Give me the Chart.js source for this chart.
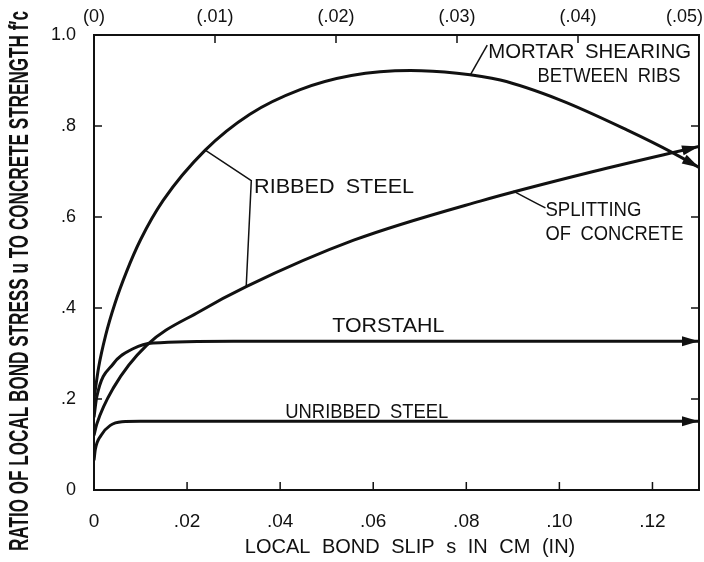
<!DOCTYPE html>
<html>
<head>
<meta charset="utf-8">
<script src="https://cdn.jsdelivr.net/npm/chart.js@4/dist/chart.umd.min.js"></script>
<style>
  html, body { margin: 0; padding: 0; background: #fff; }
  canvas { display: block; }
</style>
</head>
<body>
<canvas id="chart" width="704" height="562"></canvas>
<script>
// ── Data (slip in cm, stress ratio u / f'c) ─────────────────────────
const ribbedX = [0, 0.001, 0.0025, 0.0045, 0.007, 0.010, 0.0149, 0.0239, 0.0335, 0.0443, 0.0553, 0.0680, 0.0780, 0.0873, 0.1002, 0.1146, 0.1246, 0.130];
const ribbedY = [0.20, 0.27, 0.34, 0.41, 0.48, 0.55, 0.637, 0.747, 0.826, 0.880, 0.911, 0.922, 0.916, 0.901, 0.857, 0.791, 0.740, 0.709];

const splitX = [0, 0.0006, 0.0042, 0.0113, 0.0228, 0.0327, 0.0558, 0.083, 0.1073, 0.130];
const splitY = [0.12, 0.145, 0.225, 0.318, 0.393, 0.447, 0.549, 0.635, 0.700, 0.755];

const torX = [0, 0.0006, 0.0042, 0.0085, 0.0127, 0.030, 0.130];
const torY = [0.16, 0.205, 0.278, 0.311, 0.323, 0.327, 0.327];

const unX = [0, 0.0003, 0.0015, 0.0035, 0.006, 0.010, 0.130];
const unY = [0.065, 0.09, 0.12, 0.142, 0.150, 0.151, 0.151];

const xTicks  = [0, 0.02, 0.04, 0.06, 0.08, 0.10, 0.12];   // cm
const x2Ticks = [0, 0.01, 0.02, 0.03, 0.04, 0.05];         // in
const yTicks  = [0, 0.2, 0.4, 0.6, 0.8, 1.0];

const INK  = '#111';
const FONT = "'Liberation Sans', Arial, sans-serif";

// ── Annotations (anchored in data units, w = lettered width) ────────
const notes = [
  { text: 'RIBBED STEEL',    x: 0.0344, y: 0.666, w: 160 },
  { text: 'TORSTAHL',        x: 0.0512, y: 0.360, w: 112 },
  { text: 'UNRIBBED STEEL',  x: 0.0411, y: 0.171, w: 163 },
  { text: 'MORTAR SHEARING', x: 0.0847, y: 0.963, w: 203 },
  { text: 'BETWEEN RIBS',    x: 0.0953, y: 0.910, w: 143 },
  { text: 'SPLITTING',       x: 0.0970, y: 0.615, w: 96 },
  { text: 'OF CONCRETE',     x: 0.0970, y: 0.563, w: 138 },
];

const leaders = [
  [[0.0239, 0.747], [0.0338, 0.680], [0.0327, 0.446]],
  [[0.0809, 0.913], [0.0845, 0.978]],
  [[0.0901, 0.657], [0.0953, 0.629], [0.0970, 0.620]],
];

const pts = (xs, ys) => xs.map((x, i) => ({ x, y: ys[i] }));

const curve = (data) => ({
  data,
  borderColor: INK,
  borderWidth: 3,
  pointRadius: 0,
  fill: false,
  cubicInterpolationMode: 'monotone',
});

// ── Drawing helpers ─────────────────────────────────────────────────
const inkPlugin = {
  id: 'ink',
  afterDatasetsDraw(chart) {
    const { ctx, chartArea: a, scales: { x, x2, y } } = chart;
    ctx.save();
    ctx.strokeStyle = INK;
    ctx.fillStyle = INK;

    // frame
    ctx.lineWidth = 2;
    ctx.strokeRect(a.left, a.top, a.right - a.left, a.bottom - a.top);

    // inward ticks
    ctx.lineWidth = 1.5;
    ctx.beginPath();
    xTicks.forEach(v => {
      const px = x.getPixelForValue(v);
      ctx.moveTo(px, a.bottom); ctx.lineTo(px, a.bottom - 8);
    });
    x2Ticks.forEach(v => {
      const px = x2.getPixelForValue(v);
      ctx.moveTo(px, a.top); ctx.lineTo(px, a.top + 8);
    });
    yTicks.forEach(v => {
      const py = y.getPixelForValue(v);
      ctx.moveTo(a.left, py);  ctx.lineTo(a.left + 8, py);
      ctx.moveTo(a.right, py); ctx.lineTo(a.right - 8, py);
    });
    ctx.stroke();

    // arrowheads at curve ends
    chart.data.datasets.forEach((ds, i) => {
      const el = chart.getDatasetMeta(i).data;
      const p = el[el.length - 1], q = el[el.length - 2];
      const ang = Math.atan2(p.y - q.y, p.x - q.x);
      ctx.save();
      ctx.translate(p.x, p.y);
      ctx.rotate(ang);
      ctx.beginPath();
      ctx.moveTo(0, 0);
      ctx.lineTo(-17, -5);
      ctx.lineTo(-17, 5);
      ctx.closePath();
      ctx.fill();
      ctx.restore();
    });

    // leader lines
    ctx.lineWidth = 1.5;
    leaders.forEach(line => {
      ctx.beginPath();
      line.forEach(([vx, vy], k) => {
        const px = x.getPixelForValue(vx), py = y.getPixelForValue(vy);
        k ? ctx.lineTo(px, py) : ctx.moveTo(px, py);
      });
      ctx.stroke();
    });

    // curve labels, squeezed to the lettered width
    ctx.font = `21px ${FONT}`;
    ctx.textAlign = 'left';
    ctx.textBaseline = 'middle';
    if ('wordSpacing' in ctx) ctx.wordSpacing = '5px';
    notes.forEach(n => {
      const sx = n.w / ctx.measureText(n.text).width;
      ctx.save();
      ctx.translate(x.getPixelForValue(n.x), y.getPixelForValue(n.y));
      ctx.scale(sx, 1);
      ctx.fillText(n.text, 0, 0);
      ctx.restore();
    });

    // top axis labels (inches)
    ctx.font = `18px ${FONT}`;
    ctx.textAlign = 'center';
    ctx.textBaseline = 'alphabetic';
    if ('wordSpacing' in ctx) ctx.wordSpacing = '0px';
    x2Ticks.forEach(v => {
      const label = '(' + (v === 0 ? '0' : v.toFixed(2).replace(/^0/, '')) + ')';
      const w = ctx.measureText(label).width;
      const px = Math.min(x2.getPixelForValue(v), chart.width - w / 2 - 1);
      ctx.fillText(label, px, 22);
    });

    // x title
    ctx.font = `20px ${FONT}`;
    if ('wordSpacing' in ctx) ctx.wordSpacing = '6px';
    ctx.textBaseline = 'middle';
    ctx.fillText('LOCAL BOND SLIP s IN CM (IN)', 410, 547);

    // y title, condensed bold
    ctx.font = `bold 27px ${FONT}`;
    if ('wordSpacing' in ctx) ctx.wordSpacing = '0px';
    const title = "RATIO OF LOCAL BOND STRESS u TO CONCRETE STRENGTH f\u2032c";
    const tw = ctx.measureText(title).width;
    ctx.translate(21, 281);
    ctx.rotate(-Math.PI / 2);
    ctx.scale(540 / tw, 1);
    ctx.fillText(title, 0, 0);

    ctx.restore();
  },
};

new Chart(document.getElementById('chart'), {
  type: 'line',
  data: {
    datasets: [
      curve(pts(ribbedX, ribbedY)),
      curve(pts(splitX, splitY)),
      curve(pts(torX, torY)),
      curve(pts(unX, unY)),
    ],
  },
  options: {
    responsive: false,
    animation: false,
    devicePixelRatio: 1,
    layout: { padding: { left: 0, right: 5, top: 0, bottom: 0 } },
    plugins: { legend: { display: false }, tooltip: { enabled: false } },
    scales: {
      x: {
        type: 'linear',
        position: 'bottom',
        min: 0,
        max: 0.13,
        afterBuildTicks: s => { s.ticks = xTicks.map(v => ({ value: v })); },
        afterFit: s => { s.height = 72; },
        grid: { display: false },
        border: { display: false },
        ticks: {
          color: INK,
          padding: 12,
          maxRotation: 0,
          font: { family: FONT, size: 19 },
          callback: v => v === 0 ? '0' : v.toFixed(2).replace(/^0/, ''),
        },
      },
      x2: {
        type: 'linear',
        position: 'top',
        min: 0,
        max: 0.05,
        afterFit: s => { s.height = 35; },
        grid: { display: false },
        border: { display: false },
        ticks: { display: false },
      },
      y: {
        min: 0,
        max: 1,
        afterBuildTicks: s => { s.ticks = yTicks.map(v => ({ value: v })); },
        afterFit: s => { s.width = 94; },
        grid: { display: false },
        border: { display: false },
        ticks: {
          color: INK,
          padding: 10,
          font: { family: FONT, size: 18 },
          callback: v => v === 0 ? '0' : v === 1 ? '1.0' : v.toFixed(1).replace(/^0/, ''),
        },
      },
    },
  },
  plugins: [inkPlugin],
});
</script>
</body>
</html>
